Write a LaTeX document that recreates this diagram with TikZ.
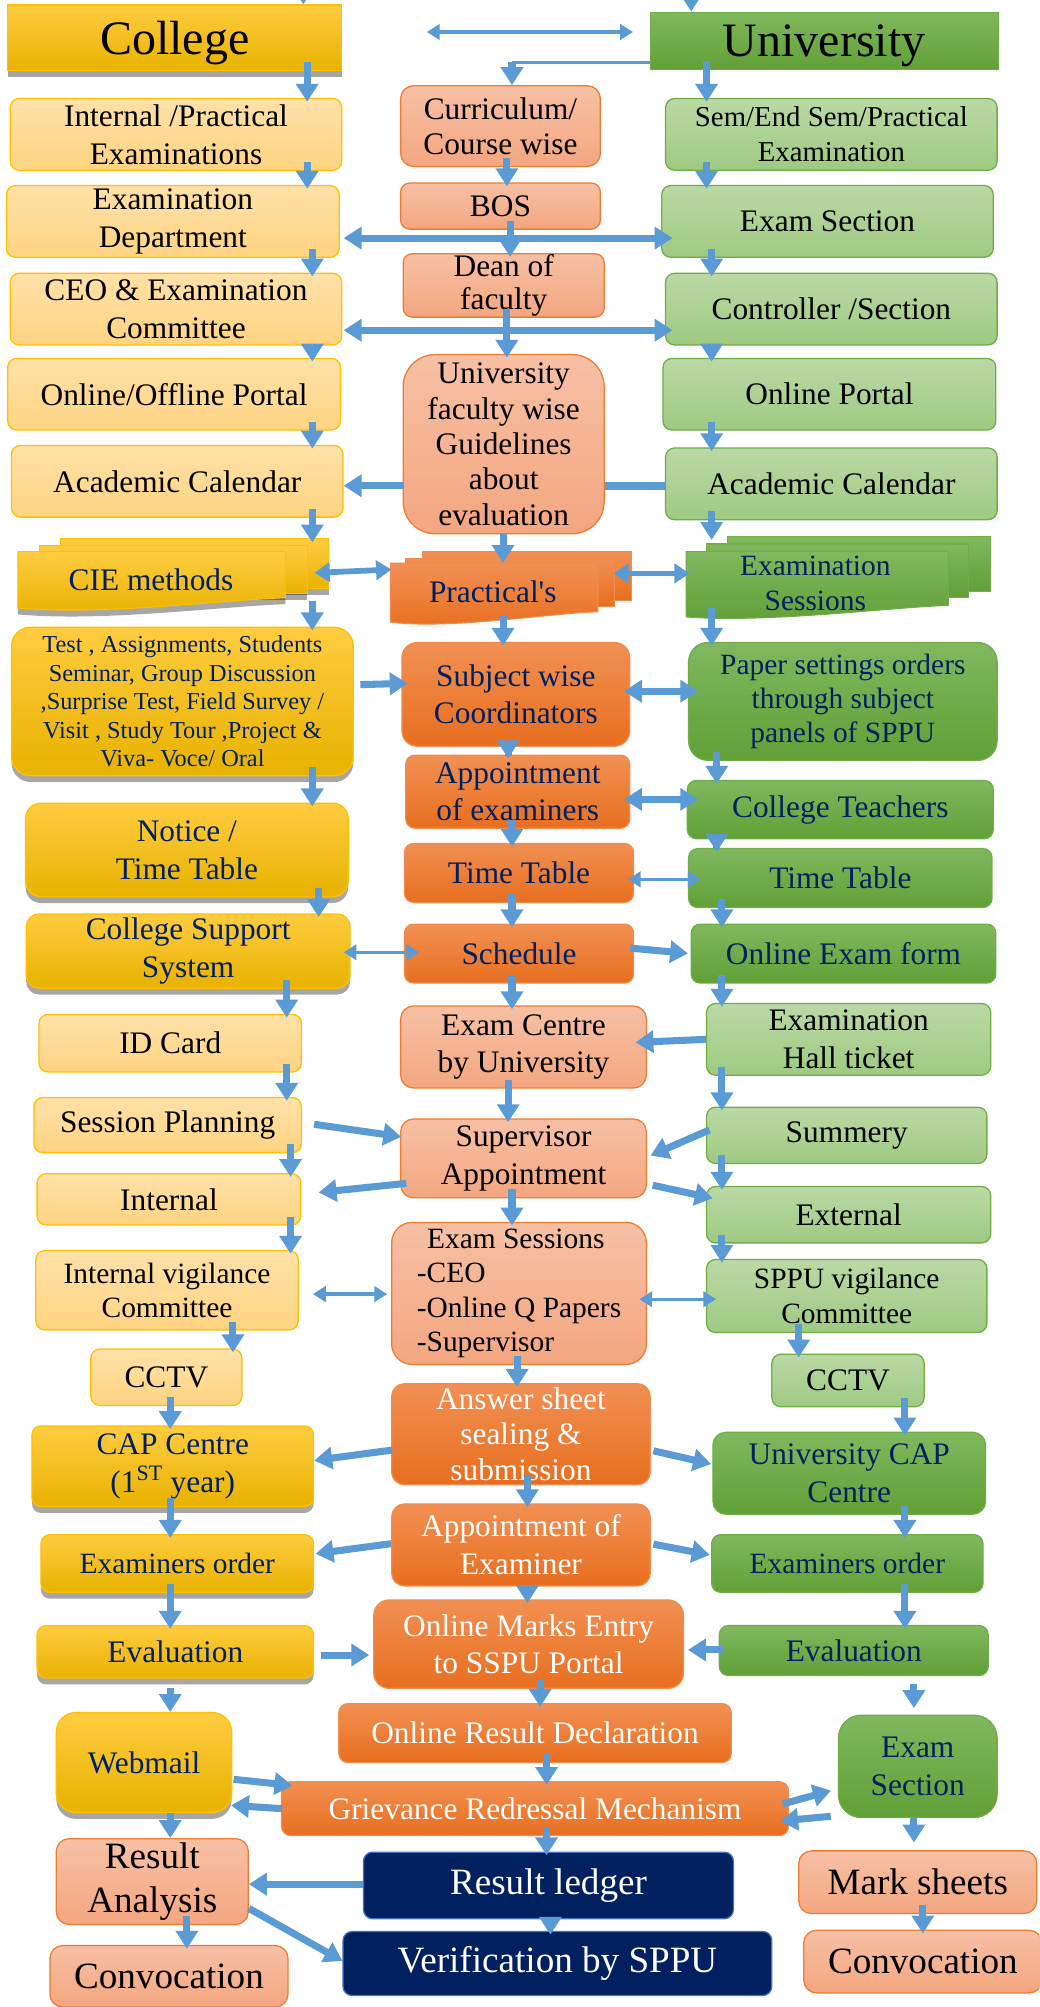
\documentclass[tikz,border=0pt]{standalone}
\usepackage{fontspec}
\setmainfont{Liberation Serif}
\usetikzlibrary{arrows.meta,shadows}

\definecolor{arrowblue}{RGB}{91,155,213}
\definecolor{navytext}{RGB}{0,32,96}
\definecolor{goldtop}{RGB}{255,204,64}
\definecolor{goldbot}{RGB}{232,178,0}
\definecolor{goldline}{RGB}{255,192,0}
\definecolor{ylwtop}{RGB}{255,225,168}
\definecolor{ylwbot}{RGB}{255,212,130}
\definecolor{saltop}{RGB}{246,192,165}
\definecolor{salbot}{RGB}{244,166,128}
\definecolor{salline}{RGB}{237,125,49}
\definecolor{orgtop}{RGB}{241,144,84}
\definecolor{orgbot}{RGB}{232,110,30}
\definecolor{orgline}{RGB}{240,140,80}
\definecolor{grntop}{RGB}{128,184,94}
\definecolor{grnbot}{RGB}{96,160,54}
\definecolor{grnline}{RGB}{112,173,71}
\definecolor{lgrtop}{RGB}{186,217,165}
\definecolor{lgrbot}{RGB}{158,202,130}
\definecolor{navybox}{RGB}{0,32,96}
\definecolor{navyline}{RGB}{68,114,196}

\tikzset{
  txt/.style={font=\fontsize{24.5}{29.5}\selectfont},
  txtm/.style={font=\fontsize{23}{26.5}\selectfont},
  txts/.style={font=\fontsize{19}{22.2}\selectfont},
  txtl/.style={font=\fontsize{29}{35}\selectfont},
  txth/.style={font=\fontsize{37.5}{40}\selectfont},
  shadowed/.style={drop shadow={shadow xshift=0pt,shadow yshift=-5pt,fill=black,opacity=.35}},
  cbox/.style={rounded corners=7pt, inner sep=0pt, align=center, line width=1pt, txt},
  ylwbox/.style={cbox, draw=goldline, top color=ylwtop, bottom color=ylwbot, text=black},
  goldbox/.style={cbox, draw=goldline, top color=goldtop, bottom color=goldbot, text=navytext, shadowed},
  salbox/.style={cbox, draw=salline, top color=saltop, bottom color=salbot, text=black},
  orgbox/.style={cbox, draw=orgline, top color=orgtop, bottom color=orgbot, text=navytext},
  grnbox/.style={cbox, draw=grnline, top color=grntop, bottom color=grnbot, text=navytext},
  lgrbox/.style={cbox, draw=grnline, top color=lgrtop, bottom color=lgrbot, text=black},
  nvybox/.style={cbox, draw=navyline, fill=navybox, text=white, txtl},
  goldsheet/.style={draw=goldline, line width=0.8pt, top color=goldtop, bottom color=goldbot, shadowed},
  orgsheet/.style={draw=orgline, line width=0.8pt, top color=orgtop, bottom color=orgbot},
  grnsheet/.style={draw=grnline, line width=0.8pt, top color=grntop, bottom color=grnbot},
  area/.style={inner sep=0pt},
  blk/.style={draw=arrowblue, line width=5.5pt, -{Triangle[width=17pt,length=14pt]}},
  blkboth/.style={blk, {Triangle[width=17pt,length=14pt]}-{Triangle[width=17pt,length=14pt]}},
  midboth/.style={draw=arrowblue, line width=4.5pt, {Triangle[width=15pt,length=12pt]}-{Triangle[width=15pt,length=12pt]}},
  thinboth/.style={draw=arrowblue, line width=2.5pt, {Triangle[width=12pt,length=10pt]}-{Triangle[width=12pt,length=10pt]}},
  bar/.style={draw=arrowblue, line width=6pt},
  dn/.style={blk, shorten <=-7pt, shorten >=-3pt},
}

\begin{document}
\begin{tikzpicture}[x=1pt, y=1pt]
\useasboundingbox (0,0) rectangle (812,-1568);
\clip (0,0) rectangle (812,-1568);
\fill[white] (0,0) rectangle (812,-1568);

% lanes for the vertical arrows
\coordinate (la) at (240,0); \coordinate (lb) at (244,0); \coordinate (lc) at (249,0);
\coordinate (ld) at (224,0); \coordinate (le) at (227,0); \coordinate (lf) at (182,0);
\coordinate (lg) at (133,0); \coordinate (lh) at (146,0);
\coordinate (ma) at (396,0); \coordinate (mb) at (398.5,0); \coordinate (mc) at (393,0);
\coordinate (md) at (397,0); \coordinate (me) at (400,0); \coordinate (mf) at (404,0);
\coordinate (mg) at (412,0); \coordinate (mh) at (422,0); \coordinate (mi) at (427,0);
\coordinate (mj) at (430,0);
\coordinate (ra) at (552,0); \coordinate (rb) at (556,0); \coordinate (rc) at (560,0);
\coordinate (rd) at (564,0); \coordinate (re) at (624,0); \coordinate (rf) at (707,0);
\coordinate (rg) at (714,0); \coordinate (rh) at (721,0);
\coordinate (topc) at (237,20); \coordinate (topu) at (540,20);
\coordinate (ucorner) at (400,-48.7);

% college column
\node[goldbox, rounded corners=0pt, text=black, txth, minimum width=261pt, minimum height=51pt] (college) at (136.5,-29.5) {\raisebox{-4pt}[\height][\depth]{College}};
\node[ylwbox, minimum width=259pt, minimum height=56pt] (intprac) at (137.5,-105) {Internal /Practical\\Examinations};
\node[ylwbox, minimum width=260pt, minimum height=56pt] (examdept) at (135,-173) {Examination\\Department};
\node[ylwbox, minimum width=259pt, minimum height=56pt] (ceo) at (137.5,-241.5) {CEO \& Examination\\Committee};
\node[ylwbox, minimum width=260pt, minimum height=56pt] (portalL) at (136,-308) {Online/Offline Portal};
\node[ylwbox, minimum width=259pt, minimum height=56pt] (acadL) at (138.5,-376) {Academic Calendar};
\draw[goldsheet] (47,-421) rectangle (257,-460);
\draw[goldsheet] (31,-426) rectangle (240,-464);
\draw[goldsheet] (14,-431) -- (223,-431) -- (223,-467) .. controls (170,-469) and (80,-481) .. (14,-475) -- cycle;
\node[area, minimum width=245pt, minimum height=55pt] (cie) at (136,-448.5) {};
\node[txt, text=navytext] (cietxt) at (118,-453) {CIE methods};
\node[goldbox, txts, rounded corners=15pt, minimum width=267pt, minimum height=116pt] (test) at (142.5,-548) {Test , Assignments, Students\\Seminar, Group Discussion\\,Surprise Test, Field Survey /\\Visit , Study Tour ,Project \&\\Viva- Voce/ Oral};
\node[goldbox, rounded corners=12pt, minimum width=252pt, minimum height=73pt] (notice) at (146,-664) {Notice /\\Time Table};
\node[goldbox, rounded corners=10pt, minimum width=253pt, minimum height=58pt] (support) at (147,-743) {College Support\\System};
\node[ylwbox, minimum width=205pt, minimum height=45pt] (idcard) at (133,-815) {ID Card};
\node[ylwbox, minimum width=209pt, minimum height=43pt] (session) at (131,-879) {Session Planning};
\node[ylwbox, minimum width=206pt, minimum height=40pt] (internal) at (132,-937) {Internal};
\node[ylwbox, txtm, minimum width=205pt, minimum height=62pt] (ivc) at (130.5,-1008) {Internal vigilance\\Committee};
\node[ylwbox, minimum width=118pt, minimum height=44pt] (cctvL) at (130,-1076) {CCTV};
\node[goldbox, minimum width=220pt, minimum height=63pt] (capL) at (135,-1145.5) {CAP Centre\\(1\textsuperscript{ST} year)};
\node[goldbox, txtm, minimum width=213pt, minimum height=45pt] (exordL) at (138.5,-1221.5) {Examiners order};
\node[goldbox, minimum width=216pt, minimum height=41pt] (evalL) at (137,-1290.5) {Evaluation};
\node[goldbox, rounded corners=15pt, minimum width=137pt, minimum height=78pt] (webmail) at (112.5,-1377) {Webmail};
\node[salbox, txtl, rounded corners=10pt, minimum width=150pt, minimum height=67pt] (analysis) at (119,-1470) {Result\\Analysis};
\node[salbox, txtl, rounded corners=10pt, minimum width=186pt, minimum height=48pt] (convL) at (132,-1544) {Convocation};

% middle column
\node[salbox, font=\fontsize{24.5}{27.3}\selectfont, rounded corners=10pt, minimum width=156pt, minimum height=63pt] (curric) at (391,-98.5) {Curriculum/\\Course wise};
\node[salbox, minimum width=156pt, minimum height=36pt] (bos) at (391,-161) {BOS};
\node[salbox, font=\fontsize{24.5}{26}\selectfont, minimum width=157pt, minimum height=49.5pt] (dean) at (393.5,-223) {Dean of\\faculty};
\node[salbox, font=\fontsize{24.5}{27.6}\selectfont, rounded corners=25pt, minimum width=157pt, minimum height=140pt] (ufw) at (393.5,-347) {University\\faculty wise\\Guidelines\\about\\evaluation};
\draw[orgsheet] (330,-431) rectangle (493,-469);
\draw[orgsheet] (317,-436) rectangle (480,-474);
\draw[orgsheet] (305,-440) -- (467,-440) -- (467,-478) .. controls (430,-479) and (350,-492) .. (305,-486) -- cycle;
\node[area, minimum width=190pt, minimum height=56pt] (practical) at (400,-459) {};
\node[txt, text=navytext] (practxt) at (385,-462) {Practical\textquotesingle s};
\node[orgbox, rounded corners=12pt, minimum width=178pt, minimum height=81pt] (swc) at (403,-542.5) {Subject wise\\Coordinators};
\node[orgbox, minimum width=175pt, minimum height=57pt] (apptex) at (404.5,-618.5) {Appointment\\of examiners};
\node[orgbox, minimum width=179pt, minimum height=46pt] (ttM) at (405.5,-682) {Time Table};
\node[orgbox, minimum width=179pt, minimum height=46pt] (sched) at (405.5,-745) {Schedule};
\node[salbox, rounded corners=10pt, minimum width=192pt, minimum height=64pt] (centre) at (409,-818) {Exam Centre\\by University};
\node[salbox, rounded corners=10pt, minimum width=192pt, minimum height=61.5pt] (superv) at (409,-905) {Supervisor\\Appointment};
\node[salbox, font=\fontsize{23}{26.7}\selectfont, align=left, rounded corners=16pt, minimum width=199pt, minimum height=111pt] (sessions) at (405.5,-1010.5) {\hspace*{8pt}Exam Sessions\\-CEO\\-Online Q Papers\\-Supervisor};
\node[orgbox, text=white, font=\fontsize{24.5}{28}\selectfont, rounded corners=10pt, minimum width=202pt, minimum height=79pt] (answer) at (407,-1120.5) {Answer sheet\\sealing \&\\submission};
\node[orgbox, text=white, rounded corners=10pt, minimum width=202pt, minimum height=64pt] (apptEx2) at (407,-1207) {Appointment of\\Examiner};
\node[orgbox, text=white, font=\fontsize{24.5}{28.5}\selectfont, rounded corners=12pt, minimum width=242pt, minimum height=69pt] (marks) at (413,-1284.5) {Online Marks Entry\\to SSPU Portal};
\node[orgbox, text=white, minimum width=306.5pt, minimum height=46pt] (ord) at (418,-1354) {Online Result Declaration};
\node[orgbox, text=white, minimum width=396pt, minimum height=42pt] (griev) at (418,-1413) {Grievance Redressal Mechanism};
\node[nvybox, minimum width=289pt, minimum height=52pt] (ledger) at (428.5,-1473) {Result ledger};
\node[nvybox, minimum width=335pt, minimum height=50pt] (verif) at (435.5,-1534) {Verification by SPPU};

% university column
\node[grnbox, rounded corners=0pt, text=black, txth, minimum width=272pt, minimum height=45pt] (univ) at (644,-32) {\raisebox{-4pt}[\height][\depth]{University}};
\node[lgrbox, font=\fontsize{22.5}{27.3}\selectfont, minimum width=259pt, minimum height=56pt] (semR) at (649.5,-105) {Sem/End Sem/Practical\\Examination};
\node[lgrbox, minimum width=259pt, minimum height=56pt] (examsecR) at (646.5,-173) {Exam Section};
\node[lgrbox, minimum width=259pt, minimum height=56pt] (controller) at (649.5,-241.5) {Controller /Section};
\node[lgrbox, minimum width=260pt, minimum height=56pt] (portalR) at (648,-308) {Online Portal};
\node[lgrbox, minimum width=259pt, minimum height=56pt] (acadR) at (649.5,-378) {Academic Calendar};
\draw[grnsheet] (568,-419.5) rectangle (774,-462);
\draw[grnsheet] (552,-425) rectangle (757,-467);
\draw[grnsheet] (536,-431) -- (741,-431) -- (741,-473) .. controls (700,-474) and (600,-487) .. (536,-482) -- cycle;
\node[area, minimum width=238pt, minimum height=63pt] (examsess) at (655,-450.5) {};
\node[text=navytext, align=center, font=\fontsize{23}{27.5}\selectfont] (estxt) at (637,-456) {Examination\\Sessions};
\node[grnbox, font=\fontsize{23}{26.5}\selectfont, rounded corners=15pt, minimum width=241pt, minimum height=92pt] (paper) at (658.5,-548) {Paper settings orders\\through subject\\panels of SPPU};
\node[grnbox, minimum width=239pt, minimum height=45.5pt] (teachers) at (656.5,-632.5) {College Teachers};
\node[grnbox, minimum width=237pt, minimum height=46pt] (ttR) at (656.5,-686) {Time Table};
\node[grnbox, minimum width=238pt, minimum height=46pt] (oef) at (659,-745) {Online Exam form};
\node[lgrbox, minimum width=222pt, minimum height=56pt] (hall) at (663,-812) {Examination\\Hall ticket};
\node[lgrbox, minimum width=219pt, minimum height=44pt] (summery) at (661.5,-887) {Summery};
\node[lgrbox, minimum width=222pt, minimum height=44pt] (external) at (663,-949) {External};
\node[lgrbox, font=\fontsize{23}{27}\selectfont, minimum width=219pt, minimum height=57pt] (sppu) at (661.5,-1012.5) {SPPU vigilance\\Committee};
\node[lgrbox, minimum width=119pt, minimum height=41pt] (cctvR) at (662.5,-1078.5) {CCTV};
\node[grnbox, rounded corners=10pt, minimum width=213pt, minimum height=64pt] (capR) at (663.5,-1151) {University CAP\\Centre};
\node[grnbox, txtm, minimum width=212pt, minimum height=45pt] (exordR) at (662,-1221.5) {Examiners order};
\node[grnbox, minimum width=210pt, minimum height=39pt] (evalR) at (667,-1289.5) {Evaluation};
\node[grnbox, font=\fontsize{24.5}{30}\selectfont, rounded corners=18pt, minimum width=124pt, minimum height=80pt] (examsecB) at (717,-1380) {Exam\\Section};
\node[salbox, txtl, rounded corners=10pt, minimum width=186pt, minimum height=49pt] (marksheets) at (717,-1470.5) {Mark sheets};
\node[salbox, txtl, rounded corners=10pt, minimum width=186pt, minimum height=49pt] (convR) at (721,-1532.5) {Convocation};

% across
\draw[thinboth, shorten <=66pt, shorten >=13pt] ([yshift=4.5pt]college.east) -- ([yshift=7pt]univ.west);
\draw[arrowblue, line width=2pt] (univ.west |- ucorner) -- (ucorner);
\draw[blkboth, shorten <=3pt, shorten >=-9pt] ([yshift=-13pt]examdept.east) -- ([yshift=-13pt]examsecR.west);
\draw[blkboth, shorten <=1pt, shorten >=-6pt] ([yshift=-16.5pt]ceo.east) -- ([yshift=-16.5pt]controller.west);
\draw[blk] ([yshift=-32.5pt]ufw.west) -- ([yshift=-3.5pt]acadL.east);
\draw[bar] ([yshift=-32.5pt]ufw.east) -- ([yshift=-1.5pt]acadR.west);
\draw[midboth, shorten <=-13pt, shorten >=-1pt] ([yshift=1.5pt]cie.east) -- ([yshift=14pt]practical.west);
\draw[midboth, shorten <=-16pt, shorten >=-3pt] ([yshift=11pt]practical.east) -- ([yshift=2.5pt]examsess.west);
\draw[blk, shorten <=5pt, shorten >=-5pt] ([yshift=13pt]test.east) -- ([yshift=8.5pt]swc.west);
\draw[blkboth, shorten <=-5pt, shorten >=-8pt] ([yshift=2.5pt]swc.east) -- ([yshift=8pt]paper.west);
\draw[blkboth, shorten <=-5pt, shorten >=-9pt] ([yshift=-6pt]apptex.east) -- ([yshift=8pt]teachers.west);
\draw[thinboth, shorten <=-5pt, shorten >=-10pt] ([yshift=-5pt]ttM.east) -- ([yshift=-1pt]ttR.west);
\draw[thinboth, shorten <=-5.5pt, shorten >=-12pt] ([yshift=-1pt]support.east) -- ([yshift=1pt]sched.west);
\draw[blk, shorten <=-3pt, shorten >=2pt] ([yshift=4pt]sched.east) -- (oef.west);
\draw[blk, shorten >=-9pt] (hall.west) -- ([yshift=4pt]centre.east);
\draw[blk, shorten <=9.5pt, shorten >=-1pt] ([yshift=2pt]session.east) -- ([yshift=17pt]superv.west);
\draw[blk, shorten <=-3pt, shorten >=3pt] ([yshift=3pt]summery.west) -- ([yshift=1pt]superv.east);
\draw[blk, shorten <=-5pt, shorten >=13.5pt] ([yshift=-20pt]superv.west) -- ([yshift=4pt]internal.east);
\draw[blk, shorten <=4.5pt, shorten >=-5.5pt] ([yshift=-20pt]superv.east) -- ([yshift=14pt]external.west);
\draw[thinboth, shorten <=11pt, shorten >=3pt] ([yshift=-3pt]ivc.east) -- ([yshift=-0.5pt]sessions.west);
\draw[thinboth, shorten <=-6pt, shorten >=-8pt] ([yshift=-4.5pt]sessions.east) -- ([yshift=-2.5pt]sppu.west);
\draw[blk, shorten <=-1pt] ([yshift=-12.5pt]answer.west) -- ([yshift=4.5pt]capL.east);
\draw[blk, shorten <=2pt, shorten >=1pt] ([yshift=-12.5pt]answer.east) -- ([yshift=7pt]capR.west);
\draw[blk, shorten >=1pt] ([yshift=1pt]apptEx2.west) -- ([yshift=7.5pt]exordL.east);
\draw[blk, shorten <=2pt, shorten >=1pt] ([yshift=1pt]apptEx2.east) -- ([yshift=6.5pt]exordR.west);
\draw[blk, shorten <=5pt, shorten >=3pt] ([yshift=-2.5pt]evalL.east) -- ([yshift=-8.5pt]marks.west);
\draw[blk, shorten <=-3pt, shorten >=3pt] ([yshift=0.5pt]evalR.west) -- ([yshift=-4.5pt]marks.east);
\draw[blk, shorten <=1pt, shorten >=-9pt] ([yshift=-13pt]webmail.east) -- ([yshift=19pt]griev.west);
\draw[blk, shorten <=-1pt, shorten >=-1pt] (griev.west) -- ([yshift=-33.5pt]webmail.east);
\draw[blk, shorten <=-5pt, shorten >=5.5pt] ([yshift=5pt]griev.east) -- ([yshift=-17.5pt]examsecB.west);
\draw[blk, shorten <=5.5pt, shorten >=-7pt] ([yshift=-38.5pt]examsecB.west) -- ([yshift=-9pt]griev.east);
\draw[blk] ([yshift=1pt]ledger.west) -- ([yshift=-2pt]analysis.east);
\draw[blk] ([yshift=-21pt]analysis.east) -- ([yshift=2pt]verif.west);

% down the college column
\draw[blk] (topc) -- (college.north -| topc);
\draw[dn] (college.south -| la) -- (intprac.north -| la);
\draw[dn] (intprac.south -| la) -- (examdept.north -| la);
\draw[dn] (examdept.south -| lb) -- (ceo.north -| lb);
\draw[dn] (ceo.south -| lb) -- (portalL.north -| lb);
\draw[dn] (portalL.south -| lb) -- (acadL.north -| lb);
\draw[dn] (acadL.south -| lb) -- (cie.north -| lb);
\draw[dn] (cie.south -| lb) -- (test.north -| lb);
\draw[dn] (test.south -| lb) -- (notice.north -| lb);
\draw[dn] (notice.south -| lc) -- (support.north -| lc);
\draw[dn] (support.south -| ld) -- (idcard.north -| ld);
\draw[dn] (idcard.south -| ld) -- (session.north -| ld);
\draw[dn] (session.south -| le) -- (internal.north -| le);
\draw[dn] (internal.south -| le) -- (ivc.north -| le);
\draw[dn] (ivc.south -| lf) -- (cctvL.north -| lf);
\draw[dn] (cctvL.south -| lg) -- (capL.north -| lg);
\draw[dn] (capL.south -| lg) -- (exordL.north -| lg);
\draw[dn] (exordL.south -| lg) -- (evalL.north -| lg);
\draw[blk, shorten <=7pt] (evalL.south -| lg) -- (webmail.north -| lg);
\draw[blk] (webmail.south -| lg) -- (analysis.north -| lg);
\draw[dn] (analysis.south -| lh) -- (convL.north -| lh);

% down the middle
\draw[blk] (ucorner) -- (curric.north -| ucorner);
\draw[dn] (curric.south -| ma) -- (bos.north -| ma);
\draw[dn] (bos.south -| mb) -- (dean.north -| mb);
\draw[dn] (dean.south -| ma) -- (ufw.north -| ma);
\draw[blk, shorten >=-9pt] (ufw.south -| mc) -- (practical.north -| mc);
\draw[dn] (practical.south -| mc) -- (swc.north -| mc);
\draw[dn] (swc.south -| md) -- (apptex.north -| md);
\draw[dn] (apptex.south -| me) -- (ttM.north -| me);
\draw[dn] (ttM.south -| me) -- (sched.north -| me);
\draw[dn] (sched.south -| me) -- (centre.north -| me);
\draw[dn] (centre.south -| md) -- (superv.north -| md);
\draw[dn] (superv.south -| me) -- (sessions.north -| me);
\draw[dn] (sessions.south -| mf) -- (answer.north -| mf);
\draw[dn] (answer.south -| mg) -- (apptEx2.north -| mg);
\draw[dn] (apptEx2.south -| mg) -- (marks.north -| mg);
\draw[dn] (marks.south -| mh) -- (ord.north -| mh);
\draw[dn] (ord.south -| mi) -- (griev.north -| mi);
\draw[dn] (griev.south -| mi) -- (ledger.north -| mi);
\draw[dn] (ledger.south -| mj) -- (verif.north -| mj);

% down the university column
\draw[blk] (topu) -- (univ.north -| topu);
\draw[dn] (univ.south -| ra) -- (semR.north -| ra);
\draw[dn] (semR.south -| ra) -- (examsecR.north -| ra);
\draw[dn] (examsecR.south -| rb) -- (controller.north -| rb);
\draw[dn] (controller.south -| rb) -- (portalR.north -| rb);
\draw[dn] (portalR.south -| rb) -- (acadR.north -| rb);
\draw[dn] (acadR.south -| rb) -- (examsess.north -| rb);
\draw[dn] (examsess.south -| rb) -- (paper.north -| rb);
\draw[dn] (paper.south -| rc) -- (teachers.north -| rc);
\draw[dn] (teachers.south -| rc) -- (ttR.north -| rc);
\draw[dn] (ttR.south -| rd) -- (oef.north -| rd);
\draw[dn] (oef.south -| rd) -- (hall.north -| rd);
\draw[dn] (hall.south -| rd) -- (summery.north -| rd);
\draw[dn] (summery.south -| rd) -- (external.north -| rd);
\draw[dn] (external.south -| rd) -- (sppu.north -| rd);
\draw[dn] (sppu.south -| re) -- (cctvR.north -| re);
\draw[dn] (cctvR.south -| rf) -- (capR.north -| rf);
\draw[dn] (capR.south -| rf) -- (exordR.north -| rf);
\draw[dn] (exordR.south -| rf) -- (evalR.north -| rf);
\draw[blk, shorten <=6pt, shorten >=5pt] (evalR.south -| rg) -- (examsecB.north -| rg);
\draw[blk, shorten >=6pt] (examsecB.south -| rg) -- (marksheets.north -| rg);
\draw[dn] (marksheets.south -| rh) -- (convR.north -| rh);
\end{tikzpicture}
\end{document}
